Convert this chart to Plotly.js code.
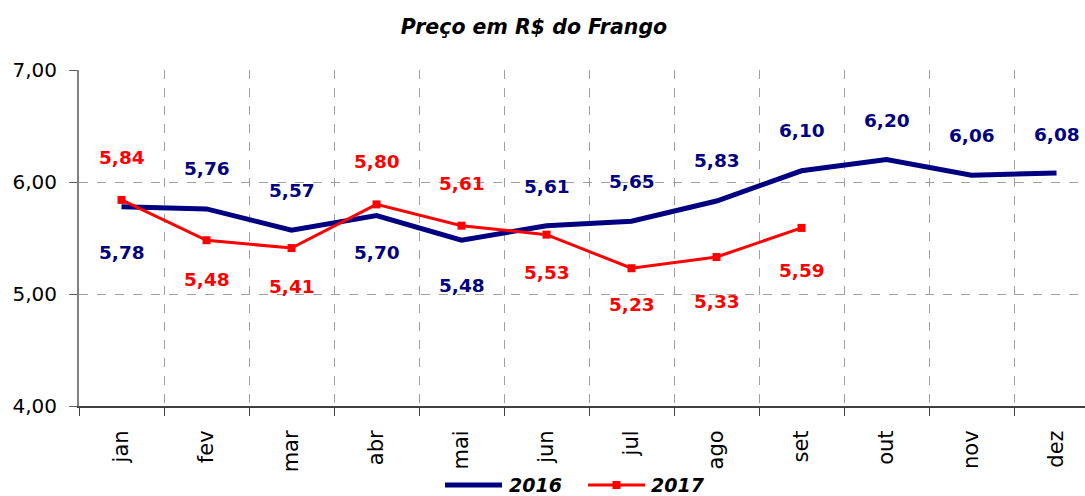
<!DOCTYPE html>
<html>
<head>
<meta charset="utf-8">
<script src="https://cdn.plot.ly/plotly-3.0.1.min.js"></script>
<style>html,body{margin:0;padding:0;background:#fff;}#chart{width:1085px;height:496px;}</style>
</head>
<body>
<div id="chart"></div>
<script>
var months = ["jan","fev","mar","abr","mai","jun","jul","ago","set","out","nov","dez"];
var values2016 = [5.78,5.76,5.57,5.70,5.48,5.61,5.65,5.83,6.10,6.20,6.06,6.08];
var values2017 = [5.84,5.48,5.41,5.80,5.61,5.53,5.23,5.33,5.59];
var yTicks = [4,5,6,7];
var seriesNames = ["2016","2017"];
// label offsets in px from the point (positive = above, negative = below)
var labelShift2016 = [-46,40,40,-37,-45,39,40,41,40,39,40,39];
var labelShift2017 = [42,-39,-38,43,42,-38,-36,-44,-43];

var FONT = "'DejaVu Sans', sans-serif";
var NAVY = "#000080", RED = "#ff0000";
var W = 1085, H = 496, ML = 79, MR = 0, MT = 70, MB = 90;
var PW = W - ML - MR, PH = H - MT - MB;
function px(xp){ return (xp - ML) / PW; }
function py(yp){ return (H - MB - yp) / PH; }

function fmt(v){ return v.toFixed(2).replace(".", ","); }

var annotations = [];
function addLabels(vals, shifts, color){
  vals.forEach(function(v,i){
    annotations.push({
      x: months[i], y: v, xref: "x", yref: "y",
      text: fmt(v), showarrow: false,
      yshift: shifts[i],
      font: {family: FONT, size: 18.5, color: color, weight: "bold"}
    });
  });
}
addLabels(values2016, labelShift2016, NAVY);
addLabels(values2017, labelShift2017, RED);

// manual legend (keeps the plot area from being shrunk)
var legFont = {family: FONT, size: 19, weight: "bold", style: "italic", color: "#000"};
var LY = 485;
annotations.push({x: px(507), y: py(LY), xref: "paper", yref: "paper", xanchor: "left", yanchor: "middle",
                  text: seriesNames[0], showarrow: false, font: legFont});
annotations.push({x: px(649), y: py(LY), xref: "paper", yref: "paper", xanchor: "left", yanchor: "middle",
                  text: seriesNames[1], showarrow: false, font: legFont});
var shapes = [
  {type: "line", xref: "paper", yref: "paper", x0: px(445), x1: px(502), y0: py(LY), y1: py(LY),
   line: {color: NAVY, width: 5}},
  {type: "line", xref: "paper", yref: "paper", x0: px(588), x1: px(645), y0: py(LY), y1: py(LY),
   line: {color: RED, width: 3}},
  {type: "rect", xref: "paper", yref: "paper", x0: px(612.5), x1: px(620.5), y0: py(LY-4), y1: py(LY+4),
   fillcolor: RED, line: {width: 0}}
];

var traces = [
  {x: months, y: values2016, name: seriesNames[0], type: "scatter", mode: "lines",
   line: {color: NAVY, width: 5}},
  {x: months.slice(0, values2017.length), y: values2017, name: seriesNames[1], type: "scatter", mode: "lines+markers",
   line: {color: RED, width: 3}, marker: {symbol: "square", size: 8, color: RED}}
];

var layout = {
  width: W, height: H,
  margin: {l: ML, r: MR, t: MT, b: MB, pad: 0},
  paper_bgcolor: "#fff", plot_bgcolor: "#fff",
  separators: ",.",
  font: {family: FONT, color: "#000"},
  title: {text: "Preço em R$ do Frango", x: 534/W, xanchor: "center", xref: "container",
          y: 1 - 27/H, yref: "container", yanchor: "middle",
          font: {family: FONT, size: 20.5, weight: "bold", style: "italic", color: "#000"}},
  xaxis: {type: "category", categoryarray: months, range: [-0.5, 11.335], automargin: false,
          tickson: "boundaries", ticks: "outside", ticklen: 8, tickcolor: "#404040",
          showline: true, linecolor: "#404040", linewidth: 2,
          showgrid: true, gridcolor: "#a0a0a0", griddash: "dash", gridwidth: 1,
          tickangle: -90, ticklabelstandoff: 14,
          tickfont: {family: FONT, size: 21, color: "#000"}, zeroline: false, fixedrange: true},
  yaxis: {range: [4, 7], tickvals: yTicks, tickformat: ".2f", automargin: false,
          ticks: "outside", ticklen: 8, tickcolor: "#606060",
          showline: true, linecolor: "#808080", linewidth: 2,
          showgrid: true, gridcolor: "#a0a0a0", griddash: "dash", gridwidth: 1,
          ticklabelstandoff: 8,
          tickfont: {family: FONT, size: 20, color: "#000"}, zeroline: false, fixedrange: true},
  showlegend: false,
  shapes: shapes,
  annotations: annotations
};

Plotly.newPlot("chart", traces, layout, {displayModeBar: false, staticPlot: true});
</script>
</body>
</html>
